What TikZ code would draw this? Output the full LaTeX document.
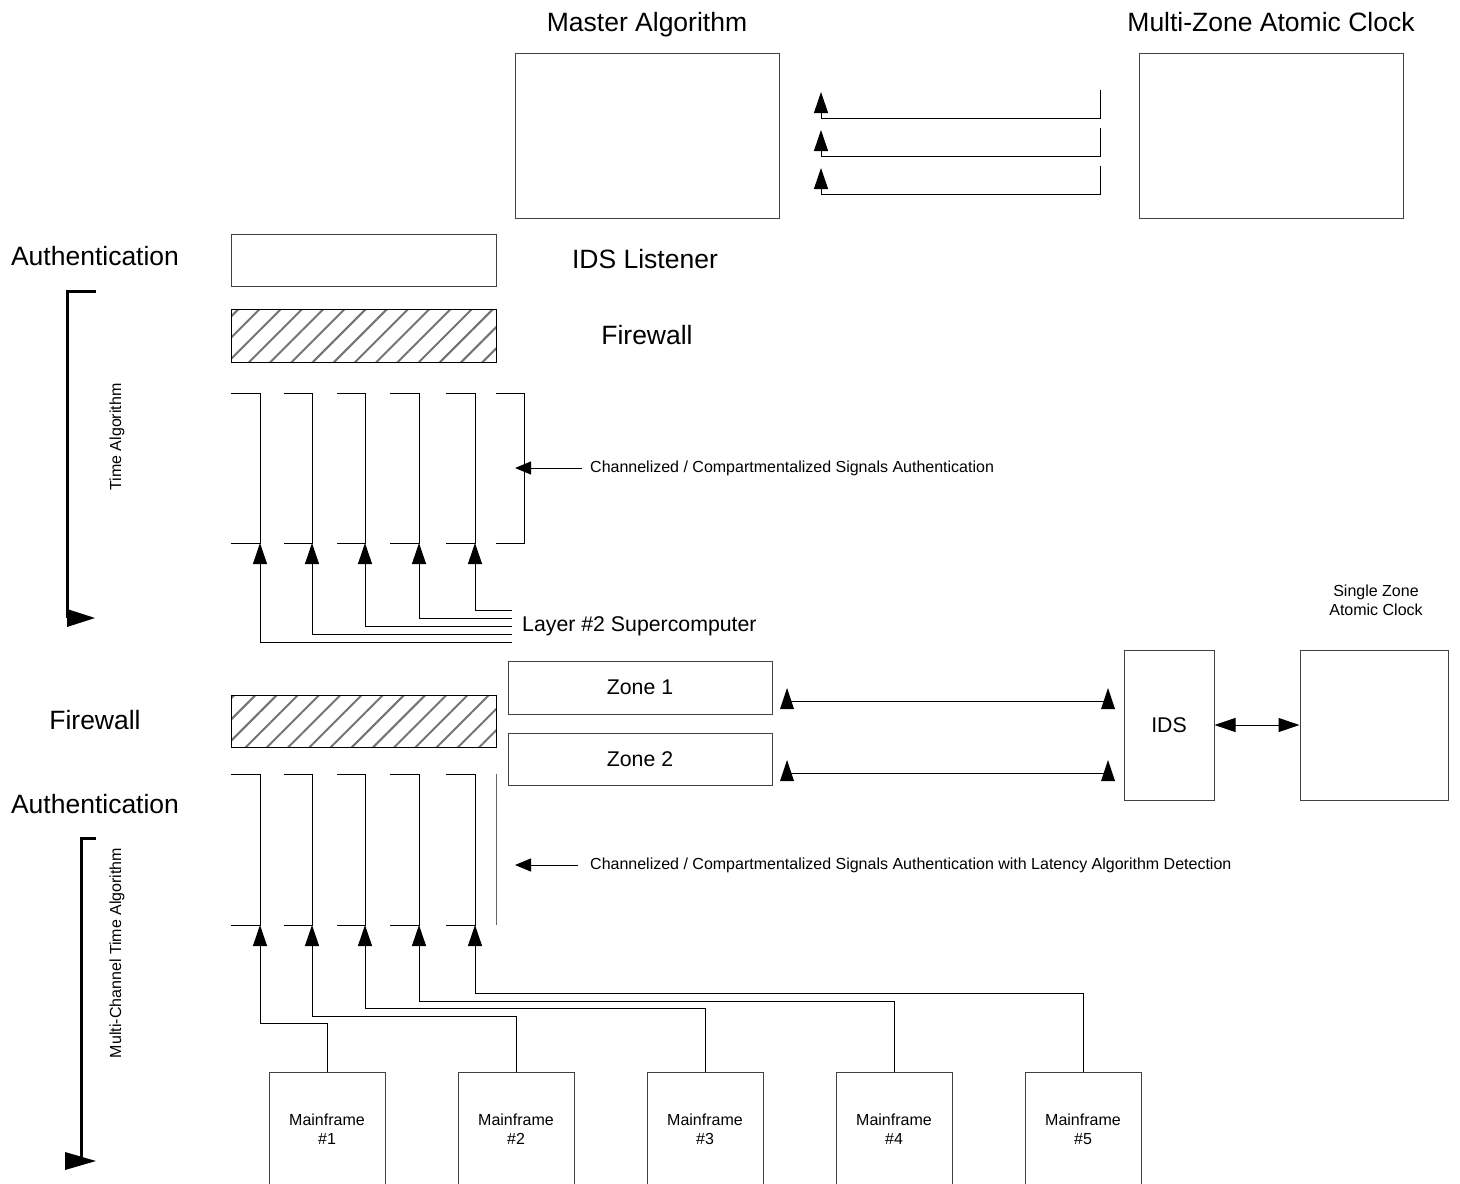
\documentclass[tikz,border=0pt]{standalone}
\usepackage{fontspec}
\setmainfont{Liberation Sans}
\usetikzlibrary{arrows.meta,positioning,patterns.meta,calc}

\newcommand{\bigtxt}{\fontsize{26.5}{31}\selectfont}
\newcommand{\midtxt}{\fontsize{21.3}{25}\selectfont}
\newcommand{\smalltxt}{\fontsize{16}{19}\selectfont}
\newcommand{\uptri}[1]{\fill (#1) ++(-7,8) -- ++(7,-21) -- ++(7,21) -- cycle;}

\begin{document}
\begin{tikzpicture}[x=1pt,y=-1pt,
    box/.style={rectangle, draw=black!75, line width=1pt, inner sep=0pt},
    hatchbox/.style={box, draw=black, pattern={Lines[angle=45,distance=15pt,line width=2pt]}, pattern color=black!55},
    lbl/.style={inner sep=0pt, font=\bigtxt, anchor=base},
    conn/.style={line width=1pt},
    tip/.style={-{Triangle[length=21pt,width=14pt]}},
    smalltip/.style={-{Triangle[length=16pt,width=13pt]}},
    bracket/.style={line width=3pt}]
  \useasboundingbox (0,0) rectangle (1460,1184);

  % top row
  \node[box, minimum width=264pt, minimum height=165pt] at (647,135.5) (master) {};
  \node[box, minimum width=264pt, minimum height=165pt] at (1271,135.5) (mzclock) {};
  \node[lbl] at (647,31.5) (masterlbl) {Master Algorithm};
  \node[lbl] at (1271,31.5) (mzlbl) {Multi-Zone Atomic Clock};
  \foreach \y [count=\i] in {118,156,194} {
    \coordinate (src\i) at (1100,\y-28);
    \coordinate (dst\i) at (821,\y-26);
    \draw[conn,tip] (src\i) -- ++(0,28) -| (dst\i);
  }

  % upper layer
  \node[lbl] at (95,265.5) (authlbl) {Authentication};
  \node[box, minimum width=265pt, minimum height=52pt] at (363.5,260) (auth) {};
  \node[lbl] at (645,268.5) (idslis) {IDS Listener};
  \node[hatchbox, minimum width=265pt, minimum height=53pt] at (363.5,335.5) (fwtop) {};
  \node[lbl] at (647,344.5) (fwtoplbl) {Firewall};

  \draw[bracket] (96,291) -- (67,291) -- (67,618);
  \fill (67,609) -- (95,618) -- (67,627) -- cycle;
  \node[inner sep=0pt, font=\smalltxt, rotate=90] at (117,437) (timealg) {Time Algorithm};

  \foreach \l/\r [count=\i] in {231/260,284/312,337/365,390/419,446/475,496/524} {
    \draw[conn] (\l,393) -- (\r,393) -- (\r,543) -- (\l,543);
    \coordinate (tb\i) at (\r,543);
  }
  \node[inner sep=0pt, font=\smalltxt, anchor=west] at (590,468) (chtop) {Channelized / Compartmentalized Signals Authentication};
  \coordinate (chtoptip) at (515,468);
  \draw[conn,smalltip] ($(chtop.west)+(-8,0)$) -- (chtoptip);

  \node[inner sep=0pt, font=\midtxt, anchor=west] at (522,626) (layer) {Layer \#2 Supercomputer};
  \foreach \i/\dy in {1/16,2/8,3/0,4/-8,5/-16}
    \draw[conn,tip] ($(layer.west)+(-10,\dy)$) -| (tb\i);

  % zones and IDS
  \node[box, minimum width=264pt, minimum height=53pt, font=\midtxt] at (640,687.5) (zone1) {Zone 1};
  \node[box, minimum width=264pt, minimum height=52pt, font=\midtxt] at (640,759) (zone2) {Zone 2};
  \node[box, minimum width=90pt, minimum height=150pt, font=\midtxt] at (1169,725) (ids) {IDS};
  \node[box, minimum width=148pt, minimum height=150pt] at (1374,725) (szclock) {};
  \node[inner sep=0pt, font=\smalltxt, align=center] at (1376,600) (szlbl) {Single Zone\\Atomic Clock};
  \draw[conn,{Triangle[length=21pt,width=14pt]}-{Triangle[length=21pt,width=14pt]}] (ids.east) -- (szclock.west);

  \coordinate (z1l) at (787,701);
  \coordinate (z1r) at (1108,701);
  \coordinate (z2l) at (787,773);
  \coordinate (z2r) at (1108,773);
  \draw[conn] (z1l) -- (z1r);
  \draw[conn] (z2l) -- (z2r);
  \uptri{z1l} \uptri{z1r} \uptri{z2l} \uptri{z2r}

  % lower layer
  \node[lbl] at (95,729.5) (fwbotlbl) {Firewall};
  \node[hatchbox, minimum width=265pt, minimum height=52pt] at (363.5,721) (fwbot) {};
  \node[lbl] at (95,813.5) (auth2lbl) {Authentication};

  \draw[bracket] (96,838) -- (81,838) -- (81,1161);
  \fill (65,1152) -- (96,1161) -- (65,1170) -- cycle;
  \node[inner sep=0pt, font=\smalltxt, rotate=90] at (117,953) (mctalg) {Multi-Channel Time Algorithm};

  \foreach \l/\r [count=\i] in {231/260,284/312,337/365,390/419,446/475} {
    \draw[conn] (\l,774) -- (\r,774) -- (\r,925) -- (\l,925);
    \coordinate (bb\i) at (\r,925);
  }
  \draw[conn, draw=black!60] (496,774) -- (496,925);
  \node[inner sep=0pt, font=\smalltxt, anchor=west] at (590,865) (chbot) {Channelized / Compartmentalized Signals Authentication with Latency Algorithm Detection};
  \coordinate (chbottip) at (515,865);
  \draw[conn,smalltip] ($(chbot.west)+(-12,0)$) -- (chbottip);

  \foreach \x/\y [count=\i] in {327/1023,516/1016,705/1008,894/1001,1083/993} {
    \node[box, minimum width=116pt, minimum height=118pt, anchor=north] at (\x,1072) (mf\i) {};
    \node[inner sep=0pt, font=\smalltxt, align=center] at (\x,1129) (mflbl\i) {Mainframe\\\#\i};
    \draw[conn,tip] (mf\i.north) -- ++(0,{\y-1072}) -| (bb\i);
  }
\end{tikzpicture}
\end{document}
